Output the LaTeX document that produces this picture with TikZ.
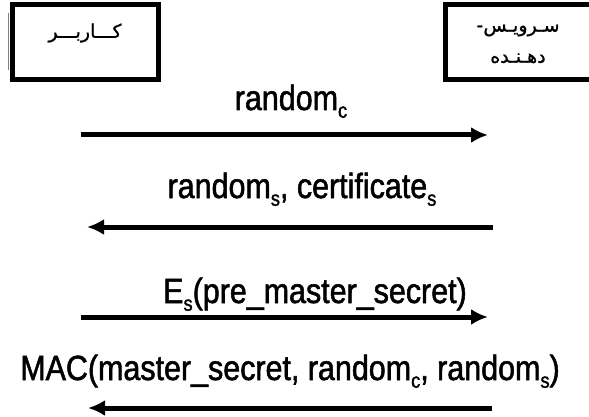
\documentclass[tikz,border=0pt]{standalone}
\usepackage{fontspec}
\setmainfont[FakeStretch=0.87,FakeBold=1.5]{Liberation Sans}
\newfontfamily\farsi[Script=Arabic,FakeBold=1]{DejaVu Sans}
\TeXXeTstate=1
\usetikzlibrary{arrows.meta}
\newcommand{\idx}[1]{\raisebox{-0.22em}{\fontsize{21}{21}\selectfont #1}}
\tikzset{
  party/.style={draw, line width=5pt, minimum width=146pt, minimum height=75pt, inner sep=0pt},
  partytext/.style={font=\farsi\fontsize{19}{31}\selectfont, align=center},
  msg/.style={font=\fontsize{35}{40}\selectfont, anchor=base, inner sep=0pt},
  flow/.style={line width=5pt, -{Latex[length=17pt,width=16pt]}}
}
\begin{document}
\begin{tikzpicture}[x=1pt, y=-1pt]
    \useasboundingbox (0,0) rectangle (589,417);

    % client box (left)
    \draw[gray, line width=1pt] (8,13) -- (8,70);
    \node[party] (client) at (85,42.5) {};
    \node[partytext] (clientname) at (85,33) {\beginR کـــاربـــر\endR};

    % server box (right, runs off the page)
    \node[party, minimum width=155pt] (server) at (522.5,42.5) {};
    \node[partytext] (servername) at (518,44) {\beginR سـرویـس-\endR\\ \beginR دهـنـده\endR};

    % ends of the four messages
    \coordinate (c1) at (81,135);  \coordinate (s1) at (488,135);
    \coordinate (s2) at (493,227); \coordinate (c2) at (87,227);
    \coordinate (c3) at (81,317);  \coordinate (s3) at (488,317);
    \coordinate (s4) at (492,408); \coordinate (c4) at (88,408);

    % messages
    \node[msg] (m1) at (291,110) {random\idx{c}};
    \draw[flow] (c1) -- (s1);

    \node[msg] (m2) at (302,198) {random\idx{s}, certificate\idx{s}};
    \draw[flow] (s2) -- (c2);

    \node[msg] (m3) at (315,303) {E\idx{s}(pre\_master\_secret)};
    \draw[flow] (c3) -- (s3);

    \node[msg] (m4) at (290,380) {MAC(master\_secret, random\idx{c}, random\idx{s})};
    \draw[flow] (s4) -- (c4);
\end{tikzpicture}
\end{document}
